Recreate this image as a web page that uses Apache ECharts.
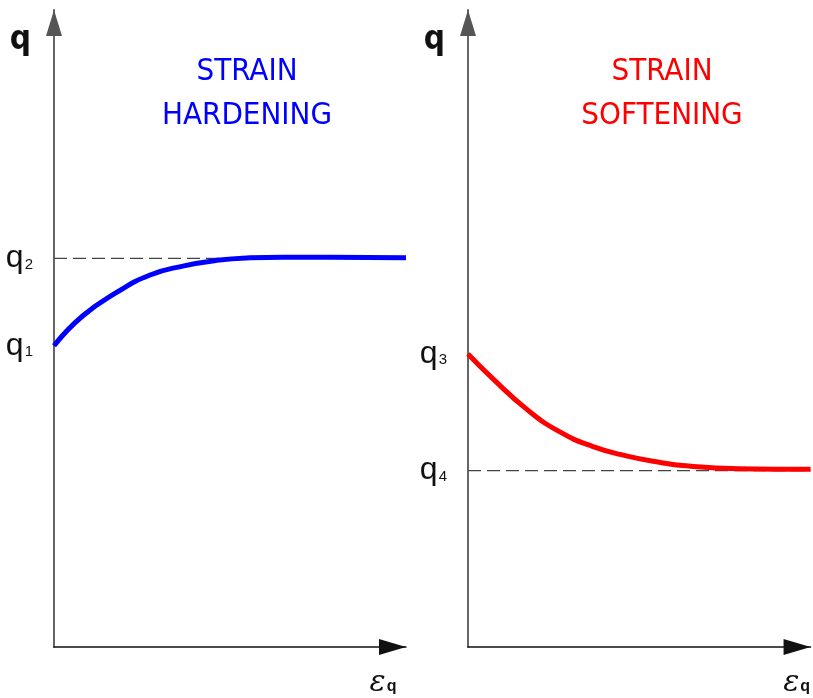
<!DOCTYPE html>
<html>
<head>
<meta charset="utf-8">
<script src="https://cdn.jsdelivr.net/npm/echarts@6/dist/echarts.min.js"></script>
<style>
  html, body { margin: 0; padding: 0; background: #fff; }
  #chart { width: 813px; height: 698px; }
</style>
</head>
<body>
<div id="chart"></div>
<script>
// strain (x) runs 0..100 in both panels, stress q 0..100
var xRange = [0, 100];
var yRange = [0, 100];

// hardening curve (left)
var hardX = [0, 8.2, 17.9, 27.3, 36.6, 46.3, 55.7, 65, 78.4, 100];
var hardY = [47.3, 52.0, 55.7, 58.4, 59.8, 60.7, 61.1, 61.2, 61.2, 61.1];
// softening curve (right)
var softX = [0, 7.3, 17.2, 26.7, 36.3, 46.2, 55.8, 64.5, 79.1, 100];
var softY = [46.0, 42.1, 37.3, 33.8, 31.5, 30.0, 29.0, 28.4, 28.0, 27.9];

// stress levels marked on the axes
var leftLevels = [47.3, 61.0];   // q1, q2
var leftNames = ['1', '2'];
var rightLevels = [46.0, 27.7];  // q3, q4
var rightNames = ['3', '4'];

var titles = ['STRAIN\nHARDENING', 'STRAIN\nSOFTENING'];

function zip(xs, ys) {
  var out = [];
  for (var i = 0; i < xs.length; i++) out.push([xs[i], ys[i]]);
  return out;
}
function levelLine(v) {
  return [[xRange[0], v], [xRange[1], v]];
}

var qRich = {
  q: { fontFamily: 'Liberation Sans', fontSize: 32, color: '#111' },
  s: { fontFamily: 'Liberation Sans', fontSize: 15, color: '#111', padding: [12, 0, 0, 1] }
};

function xAxisOf(idx, gap) {
  return {
    type: 'value', gridIndex: idx, min: xRange[0], max: xRange[1],
    splitLine: { show: false }, axisTick: { show: false }, axisLabel: { show: false },
    axisLine: {
      lineStyle: { color: '#111', width: 1.5 },
      symbol: ['none', 'triangle'], symbolSize: [16, 27], symbolOffset: [0, -13.5]
    },
    name: '{e|ε}{q|q}', nameLocation: 'end', nameGap: gap,
    nameTextStyle: {
      align: 'center', verticalAlign: 'top', padding: [21, 0, 0, 0],
      rich: {
        e: { fontFamily: 'DejaVu Serif', fontStyle: 'italic', fontSize: 30, color: '#111' },
        q: { fontFamily: 'Liberation Sans', fontWeight: 'bold', fontSize: 16, color: '#111', padding: [8, 0, 0, 1] }
      }
    }
  };
}

function yAxisOf(idx, levels, names) {
  return {
    type: 'value', gridIndex: idx, min: yRange[0], max: yRange[1],
    splitLine: { show: false }, axisTick: { show: false },
    axisLine: {
      lineStyle: { color: '#555', width: 1.8 },
      symbol: ['none', 'triangle'], symbolSize: [16, 26], symbolOffset: [0, -13]
    },
    axisLabel: {
      customValues: levels, margin: 21,
      formatter: function (v) {
        var i = levels.indexOf(v);
        return '{q|q}{s|' + (i >= 0 ? names[i] : '') + '}';
      },
      rich: qRich
    },
    name: 'q', nameLocation: 'end', nameGap: -30,
    nameTextStyle: {
      fontFamily: 'DejaVu Sans Condensed', fontWeight: 'bold',
      fontSize: 33, color: '#111', align: 'right', verticalAlign: 'middle',
      padding: [0, 23, 0, 0]
    }
  };
}

function dashSeries(idx, v) {
  return {
    type: 'line', xAxisIndex: idx, yAxisIndex: idx, z: 1, silent: true,
    showSymbol: false, data: levelLine(v),
    lineStyle: { color: '#444', width: 1.2, type: [13, 6] }
  };
}

var titleStyle = {
  fontFamily: 'DejaVu Sans Condensed',
  fontWeight: 'normal', fontSize: 31, lineHeight: 44
};

var option = {
  animation: false,
  backgroundColor: '#fff',
  title: [
    { text: titles[0], left: 247, top: 50, textAlign: 'center', padding: 0,
      textStyle: Object.assign({ color: '#0000ff', align: 'center' }, titleStyle) },
    { text: titles[1], left: 662, top: 50, textAlign: 'center', padding: 0,
      textStyle: Object.assign({ color: '#ff0000', align: 'center' }, titleStyle) }
  ],
  grid: [
    { left: 54, top: 10, width: 352, bottom: 49 },
    { left: 468, top: 10, width: 344, bottom: 49 }
  ],
  xAxis: [xAxisOf(0, -23), xAxisOf(1, -14)],
  yAxis: [yAxisOf(0, leftLevels, leftNames), yAxisOf(1, rightLevels, rightNames)],
  series: [
    dashSeries(0, leftLevels[1]),
    dashSeries(1, rightLevels[1]),
    {
      type: 'line', xAxisIndex: 0, yAxisIndex: 0, z: 3, smooth: 0.5,
      showSymbol: false, data: zip(hardX, hardY),
      lineStyle: { color: '#0000ff', width: 5 }
    },
    {
      type: 'line', xAxisIndex: 1, yAxisIndex: 1, z: 3, smooth: 0.5,
      showSymbol: false, data: zip(softX, softY),
      lineStyle: { color: '#ff0000', width: 5 }
    }
  ]
};

var myChart = echarts.init(document.getElementById('chart'));
myChart.setOption(option);
</script>
</body>
</html>
